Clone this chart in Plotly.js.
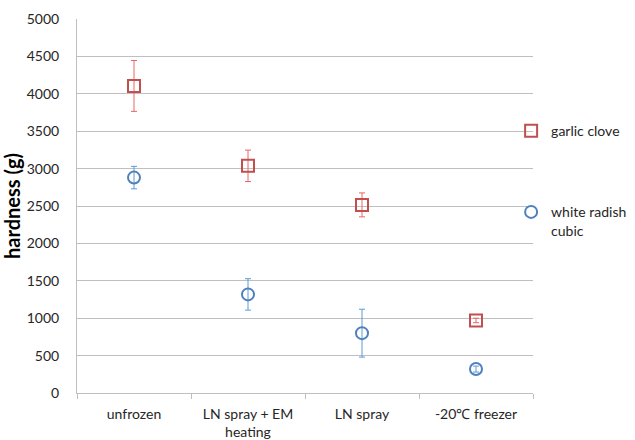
<!DOCTYPE html>
<html><head><meta charset="utf-8">
<script src="https://cdn.plot.ly/plotly-3.0.1.min.js"></script>
<style>body{margin:0;background:#fff}#chart{width:635px;height:440px}</style>
</head><body><div id="chart"></div>
<script>
const categories = ["unfrozen", "LN spray + EM<br>heating", "LN spray", "-20\u2103 freezer"];
const garlicValues = [4105, 3037, 2515, 970];
const garlicErrors = [340, 210, 160, 30];
const radishValues = [2880, 1318, 800, 320];
const radishErrors = [150, 210, 320, 40];
const yTicks = [0, 500, 1000, 1500, 2000, 2500, 3000, 3500, 4000, 4500, 5000];

const font = "Lato, 'Open Sans', 'Liberation Sans', sans-serif";
const textColor = "#262626";

const traces = [
  {
    type: "scatter", mode: "markers", name: "garlic clove",
    x: categories, y: garlicValues,
    error_y: {type: "data", array: garlicErrors, visible: true, color: "#E8666A", thickness: 1, width: 3},
    marker: {symbol: "square-open", size: 12, color: "#C0504D", line: {width: 2, color: "#C0504D"}},
    legend: "legend"
  },
  {
    type: "scatter", mode: "markers", name: "white radish<br>cubic",
    x: categories, y: radishValues,
    error_y: {type: "data", array: radishErrors, visible: true, color: "#5B9BD5", thickness: 1, width: 3},
    marker: {symbol: "circle-open", size: 12, color: "#4F81BD", line: {width: 2, color: "#4F81BD"}},
    legend: "legend2"
  }
];

const legendFont = {family: font, size: 14, color: textColor};
const layout = {
  width: 635, height: 440,
  margin: {l: 77, r: 102, t: 19, b: 47, autoexpand: false},
  paper_bgcolor: "#ffffff", plot_bgcolor: "#ffffff",
  font: {family: font, size: 14, color: textColor},
  showlegend: true,
  legend: {x: 0.952, xanchor: "left", y: 0.70, yanchor: "middle", font: legendFont, itemwidth: 30, borderwidth: 0, bgcolor: "rgba(0,0,0,0)"},
  legend2: {x: 0.952, xanchor: "left", y: 0.526, yanchor: "top", valign: "top", font: legendFont, itemwidth: 30, borderwidth: 0, bgcolor: "rgba(0,0,0,0)"},
  xaxis: {
    type: "category", categoryarray: categories, range: [-0.5, 3.5],
    showline: true, linecolor: "#BFBFBF", linewidth: 1,
    ticks: "outside", tickson: "boundaries", ticklen: 5, tickcolor: "#BFBFBF",
    ticklabelstandoff: 8,
    showgrid: false, zeroline: false,
    tickfont: {family: font, size: 14, color: textColor}
  },
  yaxis: {
    range: [0, 5000], tickvals: yTicks, ticktext: yTicks.map(String),
    showline: true, linecolor: "#BFBFBF", linewidth: 1,
    showgrid: true, gridcolor: "#BFBFBF", gridwidth: 1, zeroline: false,
    ticks: "", ticklabelstandoff: 14,
    tickfont: {family: font, size: 14, color: textColor},
    title: {text: "<b>hardness (g)</b>", font: {family: font, size: 20, color: "#000"}, standoff: 4}
  }
};

Plotly.newPlot("chart", traces, layout, {displayModeBar: false, staticPlot: true});
</script></body></html>
